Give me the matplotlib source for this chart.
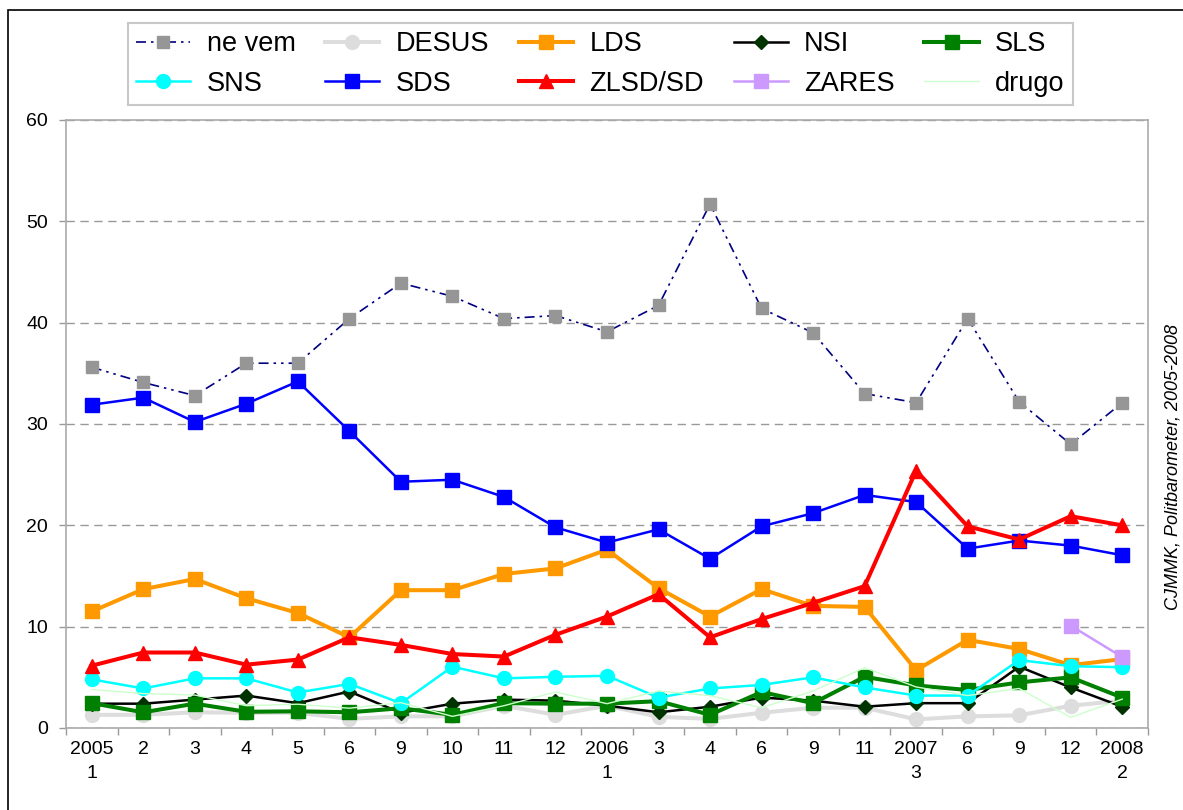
import numpy as np
import matplotlib
matplotlib.use("Agg")
import matplotlib.pyplot as plt
from matplotlib.patches import Rectangle

plt.rcParams['font.family'] = ['Liberation Sans', 'DejaVu Sans']

# survey waves (month, year on first wave of each year)
labels = ["2005\n1", "2", "3", "4", "5", "6", "9", "10", "11", "12",
          "2006\n1", "3", "4", "6", "9", "11", "2007\n3", "6", "9", "12", "2008\n2"]

ne_vem = [35.6, 34.1, 32.8, 36.0, 36.0, 40.4, 43.9, 42.6, 40.4, 40.7, 39.1,
          41.7, 51.7, 41.4, 39.0, 33.0, 32.1, 40.4, 32.2, 28.0, 32.1]
desus = [1.3, 1.3, 1.55, 1.5, 1.5, 0.9, 1.15, 1.15, 2.2, 1.3, 2.2,
         1.1, 0.9, 1.5, 2.0, 2.0, 0.85, 1.15, 1.25, 2.2, 2.7]
lds = [11.5, 13.7, 14.7, 12.8, 11.35, 8.95, 13.6, 13.6, 15.2, 15.75, 17.6,
       13.8, 11.0, 13.7, 12.05, 11.95, 5.7, 8.7, 7.8, 6.2, 6.8]
nsi = [2.4, 2.4, 2.8, 3.2, 2.45, 3.6, 1.5, 2.4, 2.8, 2.7, 2.2,
       1.55, 2.1, 3.0, 2.7, 2.1, 2.45, 2.45, 6.05, 4.0, 2.1]
sls = [2.45, 1.55, 2.4, 1.6, 1.65, 1.55, 1.95, 1.3, 2.45, 2.4, 2.4,
       2.65, 1.3, 3.55, 2.45, 5.05, 4.2, 3.75, 4.5, 5.0, 3.0]
sns_ = [4.8, 3.9, 4.9, 4.9, 3.5, 4.35, 2.45, 6.05, 4.9, 5.05, 5.15,
        3.0, 3.9, 4.25, 5.0, 4.0, 3.2, 3.2, 6.7, 6.1, 6.0]
sds = [31.9, 32.6, 30.2, 32.0, 34.2, 29.3, 24.3, 24.5, 22.8, 19.8, 18.3,
       19.6, 16.7, 19.9, 21.2, 23.0, 22.3, 17.7, 18.5, 18.0, 17.05]
zlsd = [6.15, 7.45, 7.45, 6.25, 6.75, 8.95, 8.2, 7.3, 7.05, 9.2, 11.0,
        13.2, 8.95, 10.75, 12.35, 14.0, 25.4, 19.9, 18.6, 20.9, 20.0]
zares = [np.nan] * 19 + [10.1, 7.0]
drugo = [3.8, 3.4, 3.25, 2.2, 2.35, 1.95, 2.5, 1.15, 2.2, 3.55, 2.4,
         3.65, 3.2, 2.0, 3.65, 5.95, 4.05, 3.2, 3.9, 1.05, 2.85]

x = np.arange(len(labels))

W, H = 1183, 810
fig = plt.figure(figsize=(W / 100, H / 100), dpi=100)
ax = fig.add_axes([66 / W, 1 - 728 / H, (1148 - 66) / W, (728 - 120) / H])

h = {}
h['ne vem'], = ax.plot(x, ne_vem, color='#000080', lw=1.2, dashes=(6, 3, 1.5, 3, 1.5, 3),
                       marker='s', ms=8.5, mfc='#969696', mec='#969696')
h['DESUS'], = ax.plot(x, desus, color='#DDDDDD', lw=2.9, marker='o', ms=10, mec='#DDDDDD')
h['LDS'], = ax.plot(x, lds, color='#FF9900', lw=2.9, marker='s', ms=10.5, mec='#FF9900')
h['NSI'], = ax.plot(x, nsi, color='black', lw=1.8, marker='D', ms=7.5, mfc='#003300', mec='#003300')
h['SLS'], = ax.plot(x, sls, color='#008000', lw=2.9, marker='s', ms=9.5, mec='#008000')
h['SNS'], = ax.plot(x, sns_, color='#00FFFF', lw=1.8, marker='o', ms=10, mec='#00FFFF')
h['SDS'], = ax.plot(x, sds, color='#0000FF', lw=1.8, marker='s', ms=10, mec='#0000FF')
h['ZLSD/SD'], = ax.plot(x, zlsd, color='#FF0000', lw=2.9, marker='^', ms=10, mec='#FF0000')
h['ZARES'], = ax.plot(x, zares, color='#CC99FF', lw=1.8, marker='s', ms=9.5, mec='#CC99FF')
h['drugo'], = ax.plot(x, drugo, color='#CCFFCC', lw=1.0)

ax.set_xlim(-0.5, len(labels) - 0.5)
ax.set_ylim(0, 60)
ax.set_yticks(range(0, 61, 10))
ax.yaxis.grid(True, color='#999999', ls=(0, (6, 4)), lw=1)
ax.set_axisbelow(True)

ax.set_xticks(np.arange(-0.5, len(labels), 1.0))
ax.set_xticklabels([])
ax.set_xticks(x, minor=True)
ax.set_xticklabels(labels, minor=True, fontsize=14, linespacing=1.6)
ax.tick_params(axis='x', which='major', length=5, color='#999999', width=1)
ax.tick_params(axis='x', which='minor', length=0, pad=9)
ax.tick_params(axis='y', length=5, color='#999999', width=1, labelsize=14, pad=8)
for s in ax.spines.values():
    s.set_color('#AAAAAA')
    s.set_linewidth(1.2)

order = ['ne vem', 'SNS', 'DESUS', 'SDS', 'LDS', 'ZLSD/SD', 'NSI', 'ZARES', 'SLS', 'drugo']
leg = fig.legend([h[k] for k in order], order, ncol=5, loc='upper left',
                 bbox_to_anchor=(128 / W, 1 - 23 / H), fontsize=19.5,
                 handlelength=2.0, handletextpad=0.6, columnspacing=1.1,
                 labelspacing=0.5, borderpad=0.3, borderaxespad=0,
                 frameon=True, fancybox=False, edgecolor='#BBBBBB')
leg.get_frame().set_linewidth(1.5)

fig.text(1165 / W, 1 - 467 / H, "CJMMK, Politbarometer, 2005-2008", rotation=90,
         ha='left', va='center', fontsize=13, style='italic')

fig.add_artist(Rectangle((8 / W, -0.1), 1.2, 1.1 - 10 / H, transform=fig.transFigure,
                         fill=False, ec='black', lw=1.2))

fig.savefig("out.png", dpi=100)
